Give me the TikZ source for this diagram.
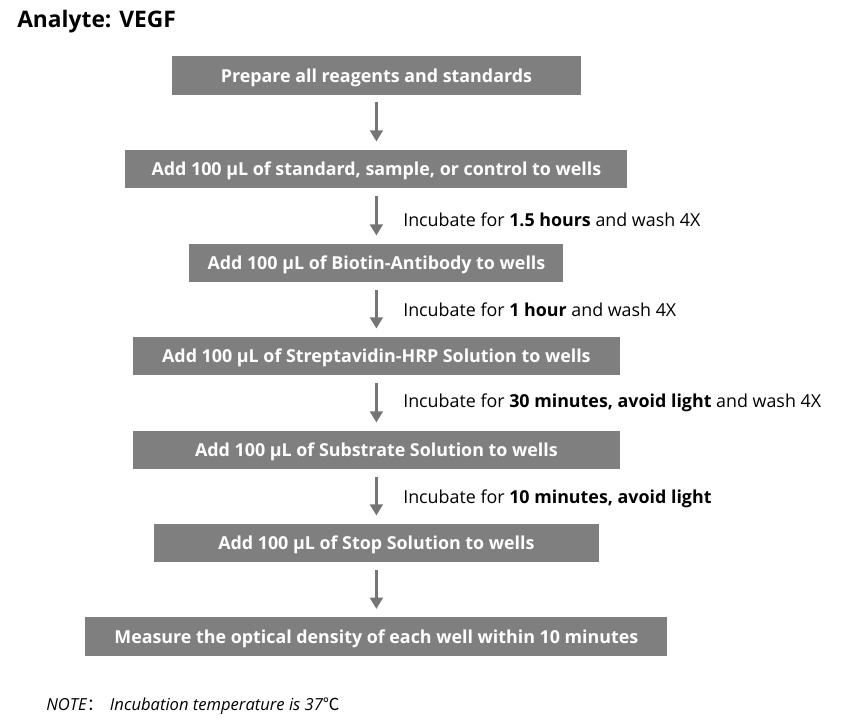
\documentclass[tikz,border=0pt]{standalone}
\usepackage{fontspec}
\setmainfont{Open Sans}
\newfontfamily\cjk{Noto Sans CJK SC}
\usepackage{xcolor}
\usetikzlibrary{arrows.meta}

\definecolor{boxgray}{HTML}{7F7F7F}
\definecolor{arrowgray}{HTML}{757575}

\begin{document}
\begin{tikzpicture}[
    box/.style={
      rectangle, fill=boxgray, text=white, align=center, text depth=0pt,
      inner sep=0pt, minimum height=0.96cm, font=\fontsize{12.7}{14}\selectfont\bfseries
    },
    >={Triangle[width=9pt,length=8pt]}, % arrowheads
    arrow/.style={->, draw=arrowgray, shorten >=0.2cm, shorten <=0.18cm, line width=2.5pt},
    note/.style={anchor=west, inner sep=0pt, font=\fontsize{12.7}{14}\selectfont},
  ]
  \useasboundingbox (0,0) rectangle (21.075,-18.15);

  % Title
  \node[anchor=west, inner sep=0pt, font=\fontsize{16.2}{19}\selectfont\bfseries] (title) at (0.425,-0.55) {Analyte: VEGF};

  % Steps (one column, centred)
  \node[box, minimum width=10.225cm] (prepare)   at (9.41,-1.89)  {Prepare all reagents and standards};
  \node[box, minimum width=12.55cm]  (standard)  at (9.41,-4.225) {Add 100 µL of standard, sample, or control to wells};
  \node[box, minimum width=9.35cm]   (biotin)    at (9.41,-6.575) {Add 100 µL of Biotin-Antibody to wells};
  \node[box, minimum width=12.175cm] (strept)    at (9.41,-8.9)   {Add 100 µL of Streptavidin-HRP Solution to wells};
  \node[box, minimum width=12.175cm] (substrate) at (9.41,-11.25) {Add 100 µL of Substrate Solution to wells};
  \node[box, minimum width=11.125cm] (stop)      at (9.41,-13.575) {Add 100 µL of Stop Solution to wells};
  \node[box, minimum width=14.55cm]  (measure)   at (9.41,-15.91) {Measure the optical density of each well within 10 minutes};

  % Incubation notes beside the arrows
  \node[note] (inc1) at (10.075,-5.5)   {Incubate for \textbf{1.5 hours} and wash 4X};
  \node[note] (inc2) at (10.075,-7.75)  {Incubate for \textbf{1 hour} and wash 4X};
  \node[note] (inc3) at (10.075,-10.075) {Incubate for \textbf{30 minutes, avoid light} and wash 4X};
  \node[note] (inc4) at (10.075,-12.475) {Incubate for \textbf{10 minutes, avoid light}};

  % Straight arrows down the column
  \draw[arrow] (prepare) -- (standard);
  \draw[arrow] (standard) -- (biotin);
  \draw[arrow] (biotin) -- (strept);
  \draw[arrow] (strept) -- (substrate);
  \draw[arrow] (substrate) -- (stop);
  \draw[arrow] (stop) -- (measure);

  % Footnote
  \node[anchor=west, inner sep=0pt, font=\fontsize{11.8}{13}\selectfont\itshape] (footnote) at (1.15,-17.65)
    {NOTE{\cjk ：}\hspace{0.4em}Incubation temperature is 37{\cjk ℃}};

\end{tikzpicture}
\end{document}
